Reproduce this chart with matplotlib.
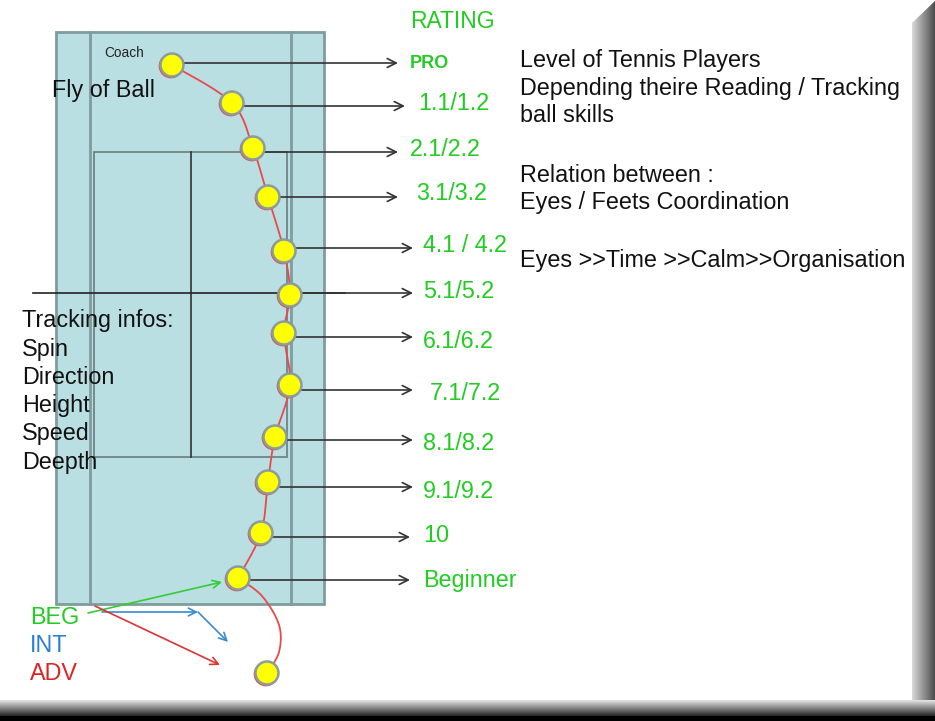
import numpy as np
import matplotlib.pyplot as plt
from matplotlib.patches import Rectangle, Circle

plt.rcParams['font.family'] = ['Liberation Sans', 'DejaVu Sans']

# rating levels, top (best) to bottom
ratings = ['PRO', '1.1/1.2', '2.1/2.2', '3.1/3.2', '4.1 / 4.2', '5.1/5.2', '6.1/6.2',
           '7.1/7.2', '8.1/8.2', '9.1/9.2', '10', 'Beginner']
# ball positions along the flight (pixel space)
ball_x = [172, 232, 253, 268, 284, 290, 284, 290, 275, 268, 261, 238]
ball_y = [65, 103, 148, 197, 251, 295, 333, 385, 437, 482, 533, 578]
arrow_y = [63, 106, 152, 197, 248, 293, 337, 390, 440, 487, 537, 580]
arrow_end = [398, 405, 398, 398, 413, 413, 413, 413, 413, 413, 410, 410]
label_x = [410, 418, 410, 416, 423, 423, 423, 430, 423, 423, 423, 423]
label_y = [63, 104, 150, 194, 245, 292, 342, 393, 443, 491, 536, 580]
# bounce tail after the beginner ball
tail_x = [238, 262, 279, 279, 267]
tail_y = [578, 596, 625, 652, 673]

info_lines = ['Tracking infos:', 'Spin', 'Direction', 'Height', 'Speed', 'Deepth']
right_lines = [('Level of Tennis Players', 60), ('Depending theire Reading / Tracking', 89),
               ('ball skills', 116), ('Relation between :', 175),
               ('Eyes / Feets Coordination', 203), ('Eyes >>Time >>Calm>>Organisation', 260)]
levels = [('BEG', '#22cc22'), ('INT', '#2a7fd4'), ('ADV', '#dd2222')]

GREEN = '#22cc22'
FS = 16.8


def catmull(xs, ys, n=20):
    p = np.column_stack([xs, ys]).astype(float)
    p = np.vstack([p[0], p, p[-1]])
    out = []
    t = np.linspace(0, 1, n)[:, None]
    for i in range(1, len(p) - 2):
        p0, p1, p2, p3 = p[i - 1], p[i], p[i + 1], p[i + 2]
        seg = 0.5 * ((2 * p1) + (-p0 + p2) * t + (2 * p0 - 5 * p1 + 4 * p2 - p3) * t ** 2
                     + (-p0 + 3 * p1 - 3 * p2 + p3) * t ** 3)
        out.append(seg)
    out = np.vstack(out)
    return out[:, 0], out[:, 1]


def ball(x, y):
    ax.add_patch(Circle((x - 1, y + 1), 11.5, fc='none', ec='#e05050', lw=1.2, zorder=4))
    ax.add_patch(Circle((x, y), 11.5, fc='#ffff00', ec='#8a9c9c', lw=1.8, zorder=5))


fig = plt.figure(figsize=(9.35, 7.21), dpi=100)
ax = fig.add_axes([0, 0, 1, 1])
ax.set_xlim(0, 935)
ax.set_ylim(721, 0)
ax.axis('off')

# court
edge = '#7f9c9e'
ax.add_patch(Rectangle((56, 32), 268, 572, fc='#badfe3', ec=edge, lw=2))
ax.plot([90, 90], [32, 604], color=edge, lw=2)
ax.plot([291, 291], [32, 604], color=edge, lw=2)
ax.add_patch(Rectangle((94, 152), 193, 305, fc='none', ec='#6f8486', lw=1.3))
ax.plot([191, 191], [152, 457], color='#333333', lw=1.2)
ax.plot([33, 345], [293, 293], color='#222222', lw=1.2)

# ball flight
cx, cy = catmull(ball_x, ball_y)
ax.plot(cx, cy, color='#e84a4a', lw=1.3, zorder=3)
tx, ty = catmull(tail_x, tail_y)
ax.plot(tx, ty, color='#e84a4a', lw=1.3, zorder=3)

for bx, by, ay, ae, lx, ly, r in zip(ball_x, ball_y, arrow_y, arrow_end, label_x, label_y, ratings):
    ax.annotate('', xy=(ae, ay), xytext=(bx, ay),
                arrowprops=dict(arrowstyle='->', color='#333333', lw=1.2, mutation_scale=16,
                                shrinkA=0, shrinkB=0), zorder=2)
    ball(bx, by)
    if r == 'PRO':
        ax.text(lx, ly, r, color=GREEN, fontsize=13, fontweight='bold', va='center')
    else:
        ax.text(lx, ly, r, color=GREEN, fontsize=FS, va='center')
ball(tail_x[-1], tail_y[-1])

ax.text(410, 22, 'RATING', color=GREEN, fontsize=16.5, va='center')
ax.text(104, 53, 'Coach', fontsize=9.8, va='center', color='#222222')
ax.text(52, 90, 'Fly of Ball', fontsize=FS, va='center', color='#111111')

for i, s in enumerate(info_lines):
    ax.text(22, 321 + i * 28.2, s, fontsize=FS, va='center', color='#111111')
for s, yy in right_lines:
    ax.text(520, yy, s, fontsize=FS, va='center', color='#111111')

for i, (s, c) in enumerate(levels):
    ax.text(30, 617 + i * 28.5, s, fontsize=FS, va='center', color=c)

# player arrows
ax.annotate('', xy=(222, 582), xytext=(88, 613),
            arrowprops=dict(arrowstyle='->', color='#33cc33', lw=1.2, mutation_scale=14, shrinkA=0, shrinkB=0))
ax.annotate('', xy=(198, 612), xytext=(102, 612),
            arrowprops=dict(arrowstyle='->', color='#3a8ad0', lw=1.2, mutation_scale=14, shrinkA=0, shrinkB=0))
ax.annotate('', xy=(228, 642), xytext=(198, 612),
            arrowprops=dict(arrowstyle='->', color='#3a8ad0', lw=1.2, mutation_scale=14, shrinkA=0, shrinkB=0))
ax.annotate('', xy=(220, 665), xytext=(95, 606),
            arrowprops=dict(arrowstyle='->', color='#dd3333', lw=1.2, mutation_scale=14, shrinkA=0, shrinkB=0))

# bevel frame
grad_h = np.linspace(0.85, 0.3, 64)[None, :]
ax.imshow(grad_h, cmap='gray', vmin=0, vmax=1, extent=(912, 935, 700, 0), aspect='auto', zorder=6)
ax.fill([912, 935, 912], [0, 0, 22], color='white', zorder=7)
grad_v = np.linspace(0.9, 0.15, 64)[:, None]
ax.imshow(grad_v, cmap='gray', vmin=0, vmax=1, extent=(0, 935, 716, 700), aspect='auto', zorder=6)
ax.add_patch(Rectangle((0, 716), 935, 6, fc='black', ec='none', zorder=8))

fig.savefig('out.png', dpi=100)
